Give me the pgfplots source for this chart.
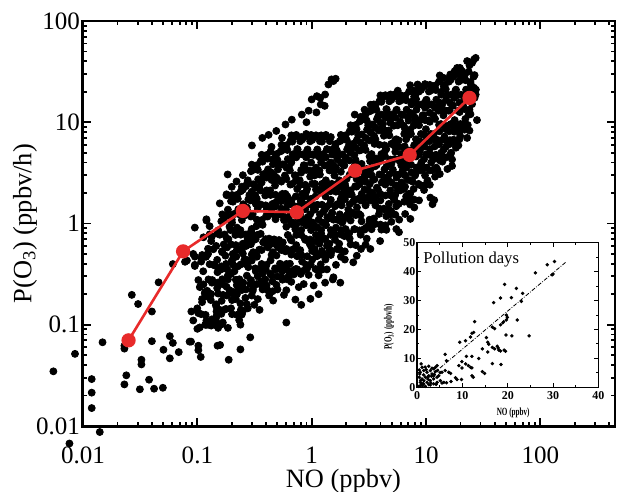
\documentclass[border=0pt]{standalone}
\usepackage{fontspec}
\setmainfont{Liberation Serif}
\usepackage{pgfplots}
\pgfplotsset{compat=1.18}
\usetikzlibrary{calc}
\definecolor{redline}{RGB}{232,42,42}
\begin{document}
\begin{tikzpicture}
\begin{axis}[
  scale only axis, width=266pt, height=202.5pt,
  xmode=log, ymode=log,
  xmin=0.0099, xmax=450, ymin=0.0099, ymax=100,
  xtick={0.01,0.1,1,10,100}, xticklabels={0.01,0.1,1,10,100},
  ytick={0.01,0.1,1,10,100}, yticklabels={0.01,0.1,1,10,100},
  minor xtick={0.02,0.03,0.04,0.05,0.06,0.07,0.08,0.09,0.2,0.3,0.4,0.5,0.6,0.7,0.8,0.9,2,3,4,5,6,7,8,9,20,30,40,50,60,70,80,90,200,300,400},
  minor ytick={0.02,0.03,0.04,0.05,0.06,0.07,0.08,0.09,0.2,0.3,0.4,0.5,0.6,0.7,0.8,0.9,2,3,4,5,6,7,8,9,20,30,40,50,60,70,80,90},
  tick align=inside, xtick pos=both, ytick pos=both,
  major tick length=4pt, minor tick length=2pt,
  axis line style={line width=1.3pt},
  every tick/.style={black, line width=0.9pt},
  tick label style={font=\fontsize{12.5}{15}\selectfont},
  xticklabel style={anchor=base, yshift=-18.5pt, inner sep=0.3pt},
  yticklabel style={anchor=east, xshift=2.2pt},
  xlabel={NO (ppbv)}, ylabel={P(O\textsubscript{3}) (ppbv/h)},
  label style={font=\fontsize{13.2}{16}\selectfont},
  x label style={at={(axis description cs:0.49,-0.1506)}, anchor=base, inner sep=0pt},
  y label style={at={(axis description cs:-0.108,0.5)}, anchor=center},
  clip=false, clip marker paths=true,
]
\coordinate (SW) at (rel axis cs:0,0);
\coordinate (NE) at (rel axis cs:1,1);
\addplot[only marks, mark=*, mark size=1.75pt, black] coordinates {
(0.110,0.488) (0.102,0.276) (0.105,0.235) (0.0998,0.145) (0.108,0.127)
(0.122,0.494) (0.1125,0.337) (0.116,0.204) (0.110,0.179) (0.119,0.0996)
(0.134,0.745) (0.124,0.563) (0.128,0.396) (0.122,0.216) (0.132,0.201) (0.134,0.113)
(0.149,0.795) (0.138,0.556) (0.142,0.385) (0.135,0.276) (0.146,0.159) (0.149,0.136)
(0.165,1.23) (0.152,0.855) (0.157,0.774) (0.149,0.437) (0.162,0.377) (0.165,0.281) (0.152,0.203) (0.157,0.14) (0.149,0.126)
(0.182,1.20) (0.168,1.08) (0.173,0.779) (0.164,0.53) (0.178,0.398) (0.182,0.353) (0.168,0.197) (0.173,0.141) (0.164,0.101)
(0.201,1.91) (0.185,1.37) (0.191,0.928) (0.181,0.708) (0.197,0.621) (0.201,0.432) (0.185,0.307) (0.191,0.219) (0.181,0.194) (0.197,0.145) (0.201,0.127)
(0.222,1.92) (0.205,1.64) (0.211,1.24) (0.200,1.09) (0.217,0.611) (0.222,0.551) (0.205,0.39) (0.211,0.337) (0.200,0.204) (0.217,0.179) (0.222,0.125)
(0.245,2.31) (0.226,1.75) (0.233,1.23) (0.221,0.855) (0.240,0.774) (0.245,0.551) (0.226,0.377) (0.233,0.281) (0.221,0.246) (0.240,0.14) (0.245,0.126)
(0.271,2.46) (0.250,2.16) (0.258,1.20) (0.245,1.08) (0.266,0.779) (0.271,0.663) (0.250,0.504) (0.258,0.439) (0.245,0.244) (0.266,0.223) (0.271,0.159) (0.250,0.136)
(0.299,3.81) (0.276,2.67) (0.285,1.91) (0.271,1.37) (0.294,1.17) (0.299,0.883) (0.276,0.621) (0.285,0.432) (0.271,0.392) (0.294,0.276) (0.299,0.194) (0.276,0.145)
(0.331,3.76) (0.306,3.37) (0.315,2.41) (0.299,2.06) (0.324,1.56) (0.331,1.09) (0.306,0.771) (0.315,0.689) (0.299,0.494) (0.324,0.337) (0.331,0.252) (0.306,0.225) (0.315,0.157)
(0.365,4.77) (0.338,3.38) (0.348,2.31) (0.331,1.75) (0.358,1.54) (0.365,1.08) (0.338,0.774) (0.348,0.551) (0.331,0.469) (0.358,0.359) (0.365,0.246) (0.338,0.179)
(0.403,4.75) (0.372,4.08) (0.384,3.08) (0.365,2.72) (0.396,1.51) (0.403,1.36) (0.372,0.969) (0.384,0.663) (0.365,0.398) (0.396,0.353) (0.403,0.244) (0.372,0.223)
(0.445,5.71) (0.411,4.37) (0.424,3.04) (0.403,2.12) (0.437,1.91) (0.445,1.37) (0.411,1.17) (0.424,0.708) (0.403,0.621) (0.437,0.432) (0.445,0.307) (0.411,0.219) (0.424,0.194)
(0.492,4.85) (0.455,4.28) (0.469,2.99) (0.446,2.69) (0.483,1.92) (0.492,1.64) (0.455,1.24) (0.469,0.696) (0.446,0.489) (0.483,0.35) (0.492,0.247) (0.455,0.214)
(0.544,5.99) (0.502,4.23) (0.518,3.77) (0.492,2.70) (0.534,1.84) (0.544,1.40) (0.502,1.23) (0.518,0.686) (0.492,0.615) (0.534,0.352) (0.544,0.296) (0.502,0.223)
(0.601,5.92) (0.555,5.3) (0.572,3.8) (0.543,2.59) (0.589,1.96) (0.601,1.72) (0.555,1.20) (0.572,1.08) (0.543,0.618) (0.589,0.53) (0.601,0.398) (0.555,0.278) (0.572,0.197)
(0.664,7.42) (0.613,5.32) (0.632,3.63) (0.600,2.75) (0.651,2.42) (0.664,1.69) (0.613,1.53) (0.632,1.09) (0.600,0.928) (0.651,0.708) (0.664,0.492) (0.613,0.348) (0.632,0.307) (0.600,0.219)
(0.733,7.5) (0.677,6.43) (0.698,4.85) (0.663,4.28) (0.719,2.99) (0.733,2.69) (0.677,1.53) (0.698,1.31) (0.663,0.989) (0.719,0.877) (0.733,0.611) (0.677,0.551) (0.698,0.314) (0.663,0.265)
(0.810,7.14) (0.748,5.43) (0.771,4.82) (0.732,2.67) (0.794,2.40) (0.810,1.71) (0.748,1.47) (0.771,1.12) (0.732,0.974) (0.794,0.545) (0.810,0.488) (0.748,0.352) (0.771,0.235)
(0.895,7.66) (0.826,6.74) (0.852,3.76) (0.809,3.37) (0.878,2.41) (0.895,2.06) (0.826,1.56) (0.852,1.09) (0.809,0.771) (0.878,0.689) (0.895,0.39) (0.826,0.337) (0.852,0.252)
(0.988,7.49) (0.913,5.26) (0.941,4.77) (0.894,3.38) (0.969,2.90) (0.988,1.75) (0.913,1.54) (0.941,1.08) (0.894,0.965) (0.969,0.694) (0.988,0.592) (0.913,0.359) (0.941,0.31)
(1.09,7.43) (1.01,6.68) (1.04,4.75) (0.988,3.24) (1.07,2.46) (1.09,2.16) (1.01,1.51) (1.04,1.36) (0.988,0.969) (1.07,0.663) (1.09,0.504) (1.01,0.439) (1.04,0.244)
(1.21,7.42) (1.12,5.32) (1.15,4.59) (1.09,3.45) (1.18,3.04) (1.21,2.12) (1.12,1.53) (1.15,1.09) (1.09,0.928) (1.18,0.708) (1.21,0.492) (1.12,0.348) (1.15,0.307)
(1.33,7.5) (1.23,6.43) (1.27,4.85) (1.21,4.28) (1.31,2.39) (1.33,2.14) (1.23,1.53) (1.27,1.31) (1.21,0.795) (1.31,0.696) (1.33,0.489) (1.23,0.35)
(1.47,7.14) (1.36,5.43) (1.40,3.81) (1.33,2.67) (1.44,2.40) (1.47,1.71) (1.36,1.47) (1.40,1.12) (1.33,0.974) (1.44,0.545) (1.47,0.488) (1.36,0.352)
(1.63,6.11) (1.50,5.35) (1.55,3.76) (1.47,3.37) (1.60,2.41) (1.63,2.06) (1.50,1.24) (1.55,1.09) (1.47,0.771) (1.60,0.689) (1.63,0.39)
(1.80,7.49) (1.66,5.26) (1.71,4.77) (1.62,3.38) (1.76,2.31) (1.80,1.75) (1.66,1.54) (1.71,1.08) (1.62,0.774) (1.76,0.551) (1.80,0.469)
(1.98,7.43) (1.83,6.68) (1.89,3.8) (1.80,3.24) (1.95,2.46) (1.98,2.16) (1.83,1.51) (1.89,1.08) (1.80,0.779) (1.95,0.53)
(2.19,9.33) (2.03,6.65) (2.09,5.71) (1.99,4.37) (2.15,3.04) (2.19,2.12) (2.03,1.91) (2.09,1.37) (1.99,1.17) (2.15,0.708) (2.19,0.621)
(2.43,9.41) (2.24,8.06) (2.31,6.11) (2.19,5.35) (2.38,3.76) (2.43,3.37) (2.24,1.92) (2.31,1.64) (2.19,1.24) (2.38,0.877) (2.43,0.611)
(2.68,11.3) (2.47,8.54) (2.55,7.49) (2.42,4.23) (2.63,3.77) (2.68,2.70) (2.47,2.31) (2.55,1.75) (2.42,1.23) (2.63,0.855) (2.68,0.774)
(2.96,12.0) (2.74,10.6) (2.82,5.92) (2.68,5.3) (2.90,3.02) (2.96,2.59) (2.74,1.96) (2.82,1.72) (2.68,1.20) (2.90,0.869) (2.96,0.618)
(3.28,14.9) (3.03,10.4) (3.12,9.33) (2.96,5.32) (3.21,4.59) (3.28,3.45) (3.03,3.04) (3.12,2.12) (2.96,1.53) (3.21,1.09) (3.28,0.928) (3.03,0.708)
(3.61,14.7) (3.34,13.1) (3.44,9.41) (3.27,8.06) (3.54,6.11) (3.61,4.28) (3.34,2.99) (3.44,2.69) (3.27,1.92) (3.54,1.64) (3.61,0.989) (3.34,0.877)
(3.99,18.4) (3.69,13.2) (3.80,11.3) (3.61,6.79) (3.91,5.99) (3.99,4.23) (3.69,3.77) (3.80,2.15) (3.61,1.84) (3.91,1.40) (3.99,0.974)
(4.41,18.5) (4.07,15.9) (4.20,9.6) (3.99,8.45) (4.33,5.92) (4.41,5.3) (4.07,3.02) (4.20,2.59) (3.99,1.96) (4.33,1.37) (4.41,0.959) (4.07,0.869)
(4.87,17.7) (4.50,13.5) (4.64,11.9) (4.41,8.27) (4.78,7.42) (4.87,4.28) (4.50,3.63) (4.64,2.75) (4.41,2.42) (4.78,1.35) (4.87,1.22) (4.50,0.865)
(5.39,18.9) (4.98,16.7) (5.13,11.7) (4.87,10.5) (5.28,5.99) (5.39,5.1) (4.98,3.88) (5.13,3.40) (4.87,1.90) (5.28,1.71) (5.39,1.22) (4.98,1.04)
(5.94,18.6) (5.49,13.1) (5.66,9.33) (5.38,6.65) (5.83,5.71) (5.94,4.37) (5.49,3.04) (5.66,2.12) (5.38,1.91) (5.83,1.09)
(6.57,18.3) (6.07,16.5) (6.26,11.8) (5.95,10.1) (6.45,7.66) (6.57,5.35) (6.07,3.76) (6.26,3.37) (5.95,2.41) (6.45,1.64) (6.57,1.24)
(7.26,23.2) (6.70,16.5) (6.91,11.3) (6.56,8.54) (7.12,7.49) (7.26,5.26) (6.70,3.77) (6.91,2.70) (6.56,2.31) (7.12,1.75) (7.26,1.54)
(8.02,18.5) (7.41,15.9) (7.64,12.0) (7.26,8.45) (7.87,5.92) (8.02,5.3) (7.41,3.8) (7.64,2.59) (7.26,1.96) (7.87,1.72)
(8.86,22.3) (8.19,16.9) (8.44,14.9) (8.02,10.4) (8.69,9.33) (8.86,5.32) (8.19,4.59) (8.44,3.45) (8.02,3.04) (8.69,1.69)
(9.80,23.8) (9.05,20.9) (9.33,11.7) (8.86,10.5) (9.61,7.5) (9.80,6.43) (9.05,3.88) (9.33,3.40) (8.86,2.39) (9.61,2.14)
(10.8,23.4) (9.99,16.4) (10.3,14.7) (9.79,10.5) (10.6,7.14) (10.8,5.43) (9.99,4.82) (10.3,2.67) (9.79,2.40)
(12.0,23.0) (11.1,20.7) (11.4,14.8) (10.8,10.1) (11.7,7.66) (12.0,6.74) (11.1,4.7) (11.4,3.37) (10.8,2.41)
(13.2,29.0) (12.2,20.8) (12.6,14.2) (12.0,10.8) (13.0,9.42) (13.2,6.58) (12.2,4.77) (12.6,3.38) (12.0,2.90)
(14.6,23.3) (13.5,19.9) (13.9,15.1) (13.2,13.3) (14.3,9.31) (14.6,6.68) (13.5,4.75) (13.9,4.08) (13.2,3.08)
(16.2,27.9) (14.9,21.2) (15.4,18.6) (14.6,13.1) (15.9,9.33) (16.2,6.65) (14.9,5.71) (15.4,3.45)
(17.7,29.8) (16.4,26.2) (16.9,14.7) (16.1,13.1) (17.4,9.41) (17.7,8.06) (16.4,4.85) (16.9,4.28)
(19.6,29.3) (18.1,20.6) (18.7,18.4) (17.8,10.5) (19.3,8.98) (19.6,6.79) (18.1,5.99)
(21.7,28.9) (20.1,26.0) (20.7,14.8) (19.7,12.6) (21.3,9.6) (21.7,8.45)
(24.0,36.5) (22.2,26.0) (22.9,17.7) (21.8,13.5) (23.6,11.9) (24.0,8.27)
(26.6,29.2) (24.5,25.0) (25.3,15.1) (24.0,13.3)
(0.108,0.42) (0.113,0.25) (0.110,0.167)
(0.119,0.47) (0.125,0.28) (0.122,0.19) (0.118,0.125)
(0.132,0.67) (0.138,0.39) (0.134,0.26) (0.131,0.175)
(0.146,0.60) (0.153,0.355) (0.149,0.23) (0.145,0.156)
(0.162,1.05) (0.170,0.62) (0.165,0.52) (0.160,0.35) (0.168,0.25) (0.163,0.172) (0.162,0.128)
(0.178,1.18) (0.187,0.70) (0.182,0.58) (0.176,0.48) (0.185,0.28) (0.180,0.237) (0.178,0.143)
(0.197,1.66) (0.206,1.23) (0.201,1.02) (0.195,0.86) (0.204,0.50) (0.199,0.42) (0.197,0.317) (0.206,0.21) (0.201,0.175)
(0.217,1.85) (0.228,1.38) (0.222,0.91) (0.215,0.77) (0.226,0.56) (0.219,0.47) (0.217,0.278) (0.228,0.23) (0.222,0.20)
(0.240,2.08) (0.252,1.55) (0.245,1.28) (0.238,0.86) (0.249,0.63) (0.242,0.535) (0.240,0.394) (0.252,0.26) (0.245,0.22) (0.238,0.162)
(0.266,2.33) (0.279,1.73) (0.271,1.44) (0.263,1.21) (0.276,0.71) (0.268,0.60) (0.266,0.44) (0.279,0.37) (0.271,0.305) (0.263,0.184)
(0.294,3.28) (0.308,2.44) (0.299,2.02) (0.291,1.69) (0.305,1.24) (0.296,0.845) (0.294,0.624) (0.308,0.52) (0.299,0.43) (0.291,0.252) (0.305,0.216)
(0.324,3.67) (0.340,2.73) (0.331,2.26) (0.321,1.89) (0.337,1.40) (0.328,0.94) (0.324,0.70) (0.331,0.48) (0.321,0.36) (0.337,0.30)
(0.358,4.12) (0.376,3.05) (0.365,2.54) (0.355,2.12) (0.362,1.05) (0.358,0.79) (0.376,0.65) (0.365,0.546) (0.372,0.32) (0.362,0.268)
(0.396,4.64) (0.415,3.42) (0.403,2.84) (0.392,1.89) (0.411,1.40) (0.399,1.18) (0.396,0.70) (0.415,0.58) (0.403,0.39) (0.392,0.28)
(0.437,5.15) (0.458,3.84) (0.445,3.18) (0.433,2.12) (0.454,1.56) (0.441,1.32) (0.437,0.624) (0.458,0.52) (0.433,0.32) (0.454,0.268)
(0.483,4.64) (0.507,3.42) (0.492,2.84) (0.478,2.37) (0.488,1.48) (0.483,1.10) (0.507,0.58) (0.492,0.483) (0.478,0.36) (0.502,0.30)
(0.534,5.15) (0.559,3.84) (0.528,2.67) (0.554,1.96) (0.539,1.66) (0.534,1.23) (0.559,0.65) (0.544,0.546) (0.528,0.40) (0.554,0.34)
(0.589,5.77) (0.618,4.32) (0.601,3.56) (0.583,2.98) (0.612,1.85) (0.595,1.38) (0.589,1.15) (0.618,0.77) (0.601,0.56) (0.583,0.38) (0.612,0.28)
(0.651,6.49) (0.683,4.8) (0.664,4.0) (0.645,3.34) (0.676,2.46) (0.657,1.66) (0.651,1.23) (0.683,1.02) (0.664,0.68) (0.645,0.40) (0.676,0.34)
(0.719,7.21) (0.754,5.38) (0.733,4.5) (0.712,2.98) (0.747,2.19) (0.726,1.85) (0.719,1.38) (0.754,1.15) (0.733,0.77) (0.712,0.56) (0.747,0.474) (0.726,0.355)
(0.794,6.49) (0.833,4.8) (0.810,3.18) (0.786,2.67) (0.825,1.96) (0.802,1.66) (0.794,1.23) (0.833,1.02) (0.810,0.86) (0.786,0.505) (0.825,0.42) (0.802,0.317)
(0.878,7.21) (0.920,5.38) (0.895,4.5) (0.869,3.74) (0.912,2.19) (0.886,1.85) (0.878,1.38) (0.920,1.15) (0.895,0.96) (0.869,0.71) (0.912,0.474) (0.886,0.355)
(0.969,6.49) (1.02,4.8) (0.988,4.0) (0.960,3.34) (1.01,2.46) (0.979,1.66) (0.969,1.23) (1.02,1.02) (0.988,0.86) (0.960,0.63) (1.01,0.535) (0.979,0.394)
(1.07,7.21) (1.12,5.38) (1.09,3.56) (1.06,2.98) (1.11,2.19) (1.08,1.85) (1.07,1.38) (1.12,0.91) (1.09,0.77) (1.06,0.56) (1.11,0.474) (1.08,0.355)
(1.18,6.49) (1.24,4.8) (1.21,4.0) (1.17,3.34) (1.23,2.46) (1.20,2.08) (1.18,1.23) (1.24,1.02) (1.21,0.86) (1.17,0.63) (1.23,0.535) (1.20,0.394)
(1.31,7.21) (1.37,5.38) (1.33,4.5) (1.30,3.74) (1.36,2.19) (1.32,1.85) (1.31,1.38) (1.37,1.15) (1.33,0.96) (1.30,0.71) (1.36,0.60) (1.32,0.44)
(1.44,6.49) (1.51,4.8) (1.47,4.0) (1.43,3.34) (1.50,2.46) (1.46,2.08) (1.44,1.55) (1.51,1.28) (1.47,0.86) (1.43,0.63) (1.50,0.535)
(1.60,5.77) (1.67,4.32) (1.63,3.56) (1.58,2.98) (1.66,2.19) (1.60,1.48) (1.67,1.10) (1.63,0.91) (1.58,0.77) (1.66,0.56)
(1.76,6.49) (1.85,4.8) (1.80,4.0) (1.74,2.67) (1.83,1.96) (1.78,1.66) (1.76,1.23) (1.85,1.02) (1.80,0.86) (1.74,0.63)
(1.95,7.21) (2.04,5.38) (1.98,4.5) (1.93,3.74) (2.02,2.75) (1.97,2.33) (1.95,1.73) (2.04,1.21) (1.98,0.88) (1.93,0.75)
(2.15,8.14) (2.26,6.05) (2.19,5.0) (2.13,4.2) (2.24,3.08) (2.17,2.08) (2.15,1.55) (2.26,1.28) (2.19,1.07) (2.13,0.80)
(2.38,9.06) (2.49,6.72) (2.43,5.6) (2.36,4.73) (2.47,2.75) (2.40,2.33) (2.38,1.73) (2.49,1.44) (2.43,1.21) (2.36,0.88)
(2.63,10.2) (2.75,7.58) (2.68,6.3) (2.60,5.25) (2.73,3.88) (2.65,3.28) (2.63,2.44) (2.68,1.69) (2.60,1.24) (2.73,1.05)
(2.90,11.4) (3.05,8.45) (2.96,7.0) (2.88,5.88) (3.02,3.45) (2.93,2.93) (2.90,2.17) (3.05,1.80) (2.96,1.51) (2.88,0.88)
(3.21,12.8) (3.37,9.5) (3.28,7.9) (3.18,6.62) (3.34,4.85) (3.24,4.12) (3.21,2.44) (3.37,2.02) (3.28,1.69) (3.18,0.99)
(3.54,14.3) (3.72,10.7) (3.61,8.8) (3.51,7.35) (3.68,4.37) (3.58,3.67) (3.54,2.73) (3.72,2.26) (3.61,1.51) (3.51,1.12)
(3.91,16.1) (4.10,11.9) (3.99,9.9) (3.88,8.3) (4.07,4.85) (3.95,4.12) (3.91,3.05) (4.10,2.54) (3.99,1.69) (3.88,1.24)
(4.33,17.9) (4.54,13.3) (4.41,11.1) (4.28,7.35) (4.49,5.43) (4.37,4.64) (4.33,3.42) (4.54,2.84) (4.41,1.89) (4.28,1.40) (4.49,1.18)
(4.78,16.1) (5.01,11.9) (4.87,9.9) (4.73,8.3) (4.96,6.11) (4.83,4.12) (4.78,3.05) (5.01,2.54) (4.87,2.12) (4.73,1.56) (4.96,1.32)
(5.28,17.9) (5.54,13.3) (5.39,11.1) (5.23,9.24) (5.49,6.79) (5.34,5.77) (5.28,4.32) (5.54,2.84) (5.39,2.37) (5.23,1.75) (5.49,1.48)
(5.83,16.1) (6.11,11.9) (5.94,9.9) (5.77,6.62) (6.06,4.85) (5.89,4.12) (5.83,3.05) (6.11,2.54) (5.94,2.12) (5.77,1.56)
(6.45,17.9) (6.76,13.3) (6.39,9.24) (6.70,6.79) (6.51,5.77) (6.45,4.32) (6.76,3.56) (6.57,2.98) (6.39,2.19) (6.70,1.85)
(7.12,20.1) (7.46,15.0) (7.26,12.4) (7.05,10.4) (7.39,7.66) (7.19,5.15) (7.12,3.84) (7.46,3.18) (7.26,2.67) (7.05,1.96)
(7.87,17.9) (8.25,13.3) (8.02,11.1) (7.79,9.24) (8.17,6.79) (7.95,5.77) (8.25,3.56) (8.02,2.98) (7.79,2.19)
(8.69,20.1) (9.12,15.0) (8.61,10.4) (9.03,7.66) (8.78,6.49) (8.69,4.8) (9.12,4.0) (8.86,3.34) (8.61,2.46)
(9.61,22.6) (10.1,16.7) (9.80,13.9) (9.52,11.7) (9.98,8.54) (9.70,5.77) (9.61,4.32) (10.1,3.56) (9.80,2.98)
(10.6,20.1) (11.1,15.0) (10.8,12.4) (10.5,10.4) (11.0,7.66) (10.7,6.49) (10.6,4.8) (11.1,4.0) (10.8,3.34)
(11.7,22.6) (12.3,16.7) (12.0,13.9) (11.6,11.7) (12.2,6.79) (11.9,5.77) (11.7,4.32) (12.3,3.56)
(13.0,25.2) (13.6,18.7) (13.2,15.6) (12.9,13.0) (13.5,9.6) (13.1,8.14) (13.0,6.05) (13.6,5.0) (13.2,4.2)
(14.3,22.6) (15.0,16.7) (14.2,11.7) (14.9,8.54) (14.5,7.21) (14.3,5.38) (15.0,4.5)
(15.9,25.2) (16.6,18.7) (16.2,15.6) (15.7,13.0) (16.5,9.6) (16.0,8.14) (15.9,6.05) (16.6,5.0)
(17.4,28.2) (18.3,21.0) (17.7,17.4) (17.2,14.6) (17.6,9.06) (17.4,6.72) (18.3,5.6)
(19.3,25.2) (20.2,18.7) (19.6,15.6) (19.1,13.0) (20.0,9.6) (19.4,8.14)
(21.3,28.2) (22.4,21.0) (21.7,17.4) (21.1,14.6) (22.1,10.8)
(23.6,31.6) (24.7,23.5) (24.0,19.5) (23.4,16.4) (24.5,12.0)
(26.1,28.2) (27.3,21.0) (26.6,17.4)
(0.12,1.1) (0.128,0.94) (0.184,3.05) (0.22,2.6) (0.30,5.9) (0.37,7.0) (0.42,7.5) (0.59,9.5) (0.67,10.6) (0.82,11.9) (0.94,13) (0.157,1.58) (0.18,1.9) (0.2,2.3) (0.25,3.0) (0.49,8.2) (0.55,7.0)
(1.0,16.8) (1.11,18.1) (1.19,17.4) (1.31,18.8) (1.40,23.6) (1.49,26.5) (1.62,26.9) (1.55,25.5) (1.2,15.0) (1.1,12.5) (1.3,14.5) (0.9,10)
(2.38,11.9) (2.9,13.3) (3.5,15.0) (4.9,18.8) (5.66,20.5) (7.9,20.5) (8.44,23.6) (14.3,27.4) (16.3,29.6) (17.8,31.9) (18.7,34.4) (19.8,34.4) (19.9,33.1) (20.7,31.9) (22.9,40.2) (26.3,41.7) (27.2,43.2) (25.3,38.6) (24.1,38.6)
(24.2,21.1) (26.3,21.9) (27.2,18.8) (23.2,9.4) (27.9,10.5) (19.5,8.1) (19.9,7.3) (18.7,6.5) (19.2,5.9) (22.9,7.0) (16.9,3.7)
(0.35,0.14) (0.46,0.173) (0.6,0.105) (0.72,0.177) (0.81,0.157) (0.975,0.18) (1.15,0.2) (1.31,0.26) (1.53,0.28) (0.238,0.057) (0.29,0.075) (0.188,0.045) (0.158,0.063) (0.232,0.111) (0.238,0.1)
(1.55,0.294) (1.78,0.26) (1.95,0.44) (2.31,0.413) (2.48,0.48) (2.7,0.56) (3.26,0.56) (3.97,0.67) (3.0,0.91) (5.5,0.88) (5.8,0.82) (7.3,1.11) (7.9,1.44) (11.4,1.55) (11.8,1.7) (10.9,1.8)
(0.12,0.11) (0.132,0.10) (0.147,0.106) (0.152,0.093) (0.167,0.105) (0.185,0.093)
(0.0119,0.029) (0.0119,0.0213) (0.0119,0.015) (0.0148,0.067) (0.023,0.058) (0.023,0.062) (0.0239,0.0316) (0.023,0.0257) (0.0267,0.197) (0.0303,0.16) (0.0324,0.045) (0.0324,0.0405) (0.0314,0.023) (0.0378,0.0286) (0.040,0.135) (0.040,0.0687) (0.0418,0.0233) (0.0458,0.262) (0.0499,0.0238) (0.0505,0.0565) (0.0574,0.0465) (0.0574,0.077) (0.061,0.066) (0.061,0.397) (0.0687,0.0536) (0.078,0.418) (0.0855,0.068) (0.088,0.068) (0.0886,0.135) (0.092,0.110) (0.095,0.47) (0.095,0.39) (0.095,0.91) (0.1,0.091) (0.105,0.094) (0.102,0.13) (0.102,0.062) (0.102,0.056) (0.107,0.048) (0.109,0.46) (0.119,0.47) (0.124,0.50) (0.117,0.21) (0.117,0.1) (0.124,0.1) (0.132,0.098) (0.142,0.102) (0.147,0.098) (0.147,0.15) (0.147,0.135) (0.147,0.12) (0.113,0.73) (0.15,0.33) (0.15,0.26) (0.15,0.062)
(0.092,0.50) (0.081,0.43) (0.095,0.38) (0.128,0.78) (0.18,1.94) (0.12,1.07)
(0.0055,0.0346) (0.0085,0.0515) (0.014,0.0087) (0.0076,0.0067)
};
\addplot[redline, line width=1.3pt, mark=*, mark size=2.9pt, mark options={fill=redline, draw=redline}] coordinates {
(0.025,0.07) (0.075,0.53) (0.25,1.33) (0.74,1.29) (2.4,3.33) (7.2,4.75) (24,17.4)
};
\end{axis}
\begin{axis}[
  at={($(SW)+(167.1pt,19.5pt)$)}, anchor=south west,
  scale only axis, width=90.65pt, height=72.2pt,
  xmin=0, xmax=40, ymin=0, ymax=50,
  xtick={0,10,20,30,40}, xticklabels={0,10,20,30,40},
  ytick={0,10,20,30,40,50}, yticklabels={0,10,20,30,40,50},
  minor tick num=1,
  tick align=inside, xtick pos=both, ytick pos=both,
  major tick length=2.2pt, minor tick length=1.2pt,
  axis line style={line width=0.6pt},
  every tick/.style={black, line width=0.5pt},
  axis background/.style={fill=white},
  tick label style={font=\fontsize{6}{7}\selectfont\bfseries},
  xticklabel style={anchor=base, yshift=-6.2pt},
  yticklabel style={anchor=east, inner sep=0.6pt},
  xlabel={\scalebox{0.65}[1]{NO (ppbv)}},
  ylabel={\scalebox{0.65}[1]{P(O\textsubscript{3}) (ppbv/h)}},
  label style={font=\fontsize{5.5}{6}\selectfont\bfseries},
  x label style={at={(axis description cs:0.53,-0.175)}, anchor=center},
  y label style={at={(axis description cs:-0.154,0.42)}, anchor=center},
]
\addplot[only marks, mark=*, mark size=0.65pt, black] coordinates {
(30.3,43.5) (28.7,42.4) (30.0,39.2) (29.8,38.9) (26.1,39.6) (19.3,35.6) (21.9,34.2) (23.3,32.5) (18.4,30.9) (20.8,31.0) (16.9,29.3) (23.0,29.7) (19.7,25.0) (19.9,24.2) (19.1,22.7) (19.7,23.3) (22.1,23.3) (12.7,22.7) (18.9,22.3) (18.4,21.6) (16.6,20.8) (17.1,20.3) (19.6,18.1) (20.9,17.8) (24.7,17.8) (12.5,19.0) (12.1,18.7) (9.4,15.6) (10.7,16.1) (11.8,17.4) (15.3,17.2) (15.6,15.6) (15.8,14.9) (16.6,13.8) (17.1,13.3) (17.7,14.2) (17.9,13.6) (18.0,12.9) (18.4,12.6) (19.2,12.9) (19.5,12.5) (14.4,13.3) (15.6,12.2) (10.9,10.7) (12.1,10.7) (13.6,10.0) (6.2,11.4) (9.9,8.9) (10.7,8.1) (9.2,7.5) (9.9,6.7) (11.3,7.5) (11.8,6.9) (12.1,6.7) (16.6,8.2) (18.5,7.9) (14.4,5.4) (14.9,4.8) (7.0,5.2) (7.4,4.8) (8.5,3.3) (8.8,2.7) (12.1,4.0) (12.4,3.5) (9.8,2.7) (5.9,1.7) (5.5,1.5) (3.7,4.0) (6.5,9.2) (6.2,5.8) (5.1,5.1)
(0.73,5.2) (1.46,5.8) (2.2,5.2) (2.94,5.8) (3.67,6.4) (4.04,6.9) (4.41,7.5) (3.3,4.6) (2.57,4.0) (1.83,3.5) (1.1,2.9) (0.73,1.7) (1.46,1.2) (2.2,1.7) (2.94,2.3) (3.67,2.9) (4.41,3.5) (0.73,0.6) (1.83,0.35) (2.94,0.8) (3.67,1.2) (4.41,1.7) (5.14,2.3) (4.78,4.0) (5.52,5.2) (4.04,5.4) (3.3,6.6) (2.57,7.3) (2.0,6.1) (1.46,4.3) (0.9,8.1) (1.1,6.9) (0.5,3.5) (0.6,4.6) (1.0,1.0) (1.5,2.3) (2.5,2.7) (3.0,1.5) (0.4,0.3) (1.2,0.5) (2.6,0.9) (0.8,2.4) (3.8,4.4) (4.5,5.8) (1.8,7.0) (0.5,6.0) (2.3,3.3) (3.2,3.8) (6.5,1.6) (4.2,1.0) (7.5,2.0)
};
\addplot[black, line width=0.4pt, dash pattern=on 2pt off 0.8pt on 0.4pt off 0.8pt] coordinates {(1,1.32) (32.8,43.3)};
\node[anchor=north west, font=\fontsize{8.3}{10}\selectfont, inner sep=0pt] at ($(rel axis cs:0,1)+(3pt,-4.5pt)$) {Pollution days};
\end{axis}
\pgfresetboundingbox
\path ($(SW)+(-41.25pt,-32.5pt)$) rectangle ($(NE)+(1pt,10.5pt)$);
\end{tikzpicture}
\end{document}
